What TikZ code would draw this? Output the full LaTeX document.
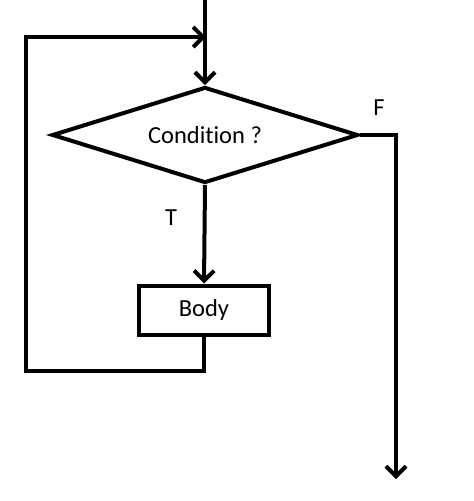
\documentclass[tikz,border=0pt]{standalone}
\usepackage{fontspec}
\setmainfont{Carlito}[Ligatures=NoCommon]
\usetikzlibrary{shapes.geometric,arrows.meta}

\begin{document}
\begin{tikzpicture}[x=1pt,y=-1pt,line width=4pt,
		flow/.style={-{Straight Barb[length=10pt,width=20pt]}},
		decision/.style={draw,diamond,aspect=3.2,inner sep=0pt,minimum width=306pt,minimum height=96pt},
		block/.style={draw,rectangle,minimum width=130pt,minimum height=49pt,inner sep=0pt},
		every node/.style={font=\fontsize{24.5}{29}\selectfont}]
		% border
		\useasboundingbox (0,0) rectangle (474,501);
		% loop head and body
		\node[decision] (cond) at (205,135) {\raisebox{-2pt}{Condition ?}};
		\node[block]    (body) at (204,310) {Body};
		\coordinate (start)   at (205,0);
		\coordinate (join)    at (206,37);
		\coordinate (looptop) at (26,37);
		\coordinate (loopbot) at (26,371);
		\coordinate (falsebend) at (396,135);
		\coordinate (exit)    at (396,479);
		% entry
		\draw[flow] (start) -- (cond.north);
		% true branch / loop back
		\draw[flow] (cond.south) -- (body.north);
		\draw[flow,line join=miter] (body.south) |- (loopbot) -- (looptop) -- (join);
		% false branch
		\draw[flow,line join=miter] (cond.east) -- (falsebend) -- (exit);
		% branch labels
		\node (tlabel) at (171,218) {T};
		\node (flabel) at (379,108) {F};
\end{tikzpicture}
\end{document}
